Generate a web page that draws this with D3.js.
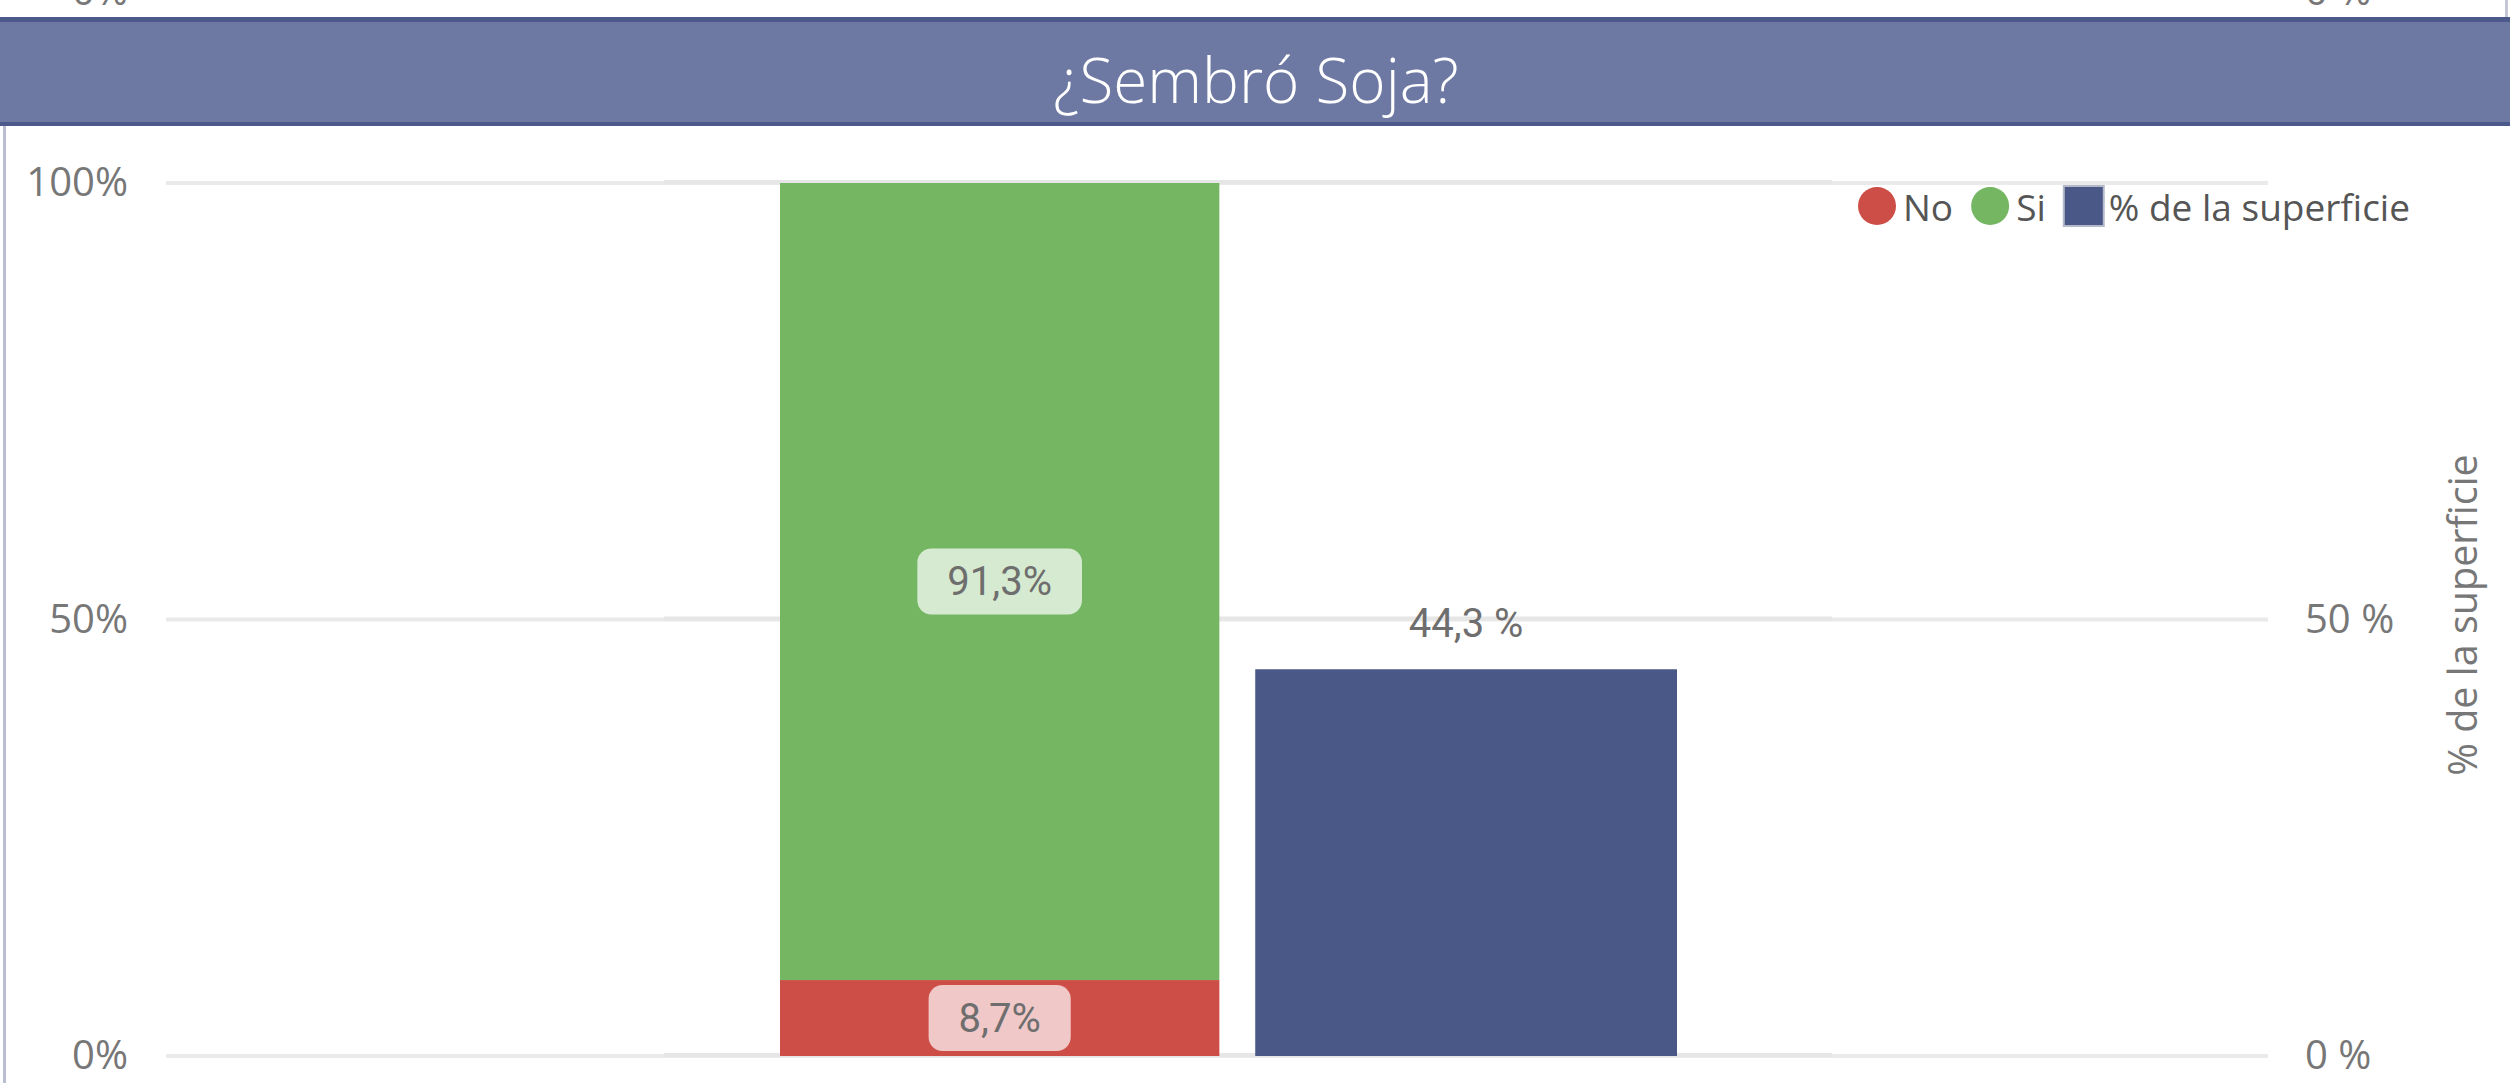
<!DOCTYPE html>
<html>
<head>
<meta charset="utf-8">
<script src="https://cdn.jsdelivr.net/npm/d3@7"></script>
<style>
  html, body { margin: 0; padding: 0; background: #fff; overflow: hidden; }
  svg { display: block; }
</style>
</head>
<body>
<div id="chart"></div>
<script>
const width = 2510;
const height = 1083;

// data
const title = "¿Sembró Soja?";
const answers = ["No", "Si"];
const answerShares = [0.087, 0.913];
const surfaceLabel = "% de la superficie";
const surfaceShare = [0.443];
const leftTicks = [0, 0.5, 1];
const rightTicks = [0, 0.5];
const groups = ["respuesta", "superficie"];

const colors = { No: "#CD4D47", Si: "#74B662", surface: "#4A5888" };
const boxColors = { No: "#F1C8C8", Si: "#D5EAD0" };
const labelFont = "'Open Sans', 'Segoe UI', sans-serif";

const svg = d3.select("#chart")
    .append("svg")
    .attr("width", width)
    .attr("height", height);

// pieces of the chart above, cut off at the top
svg.append("text").attr("x", 128).attr("y", 5).attr("text-anchor", "end")
    .attr("font-family", labelFont).attr("font-size", 40).attr("fill", "#777").text("0%");
svg.append("text").attr("x", 2305).attr("y", 5)
    .attr("font-family", labelFont).attr("font-size", 40).attr("fill", "#777").text("0 %");
svg.append("rect").attr("x", 2505).attr("y", 0).attr("width", 3).attr("height", 18).attr("fill", "#C3C7D6");

// title bar
svg.append("rect").attr("x", 0).attr("y", 17).attr("width", width).attr("height", 109).attr("fill", "#4B5A8B");
svg.append("rect").attr("x", 0).attr("y", 22).attr("width", width).attr("height", 100).attr("fill", "#6D79A2");
svg.append("text")
    .attr("x", 1256).attr("y", 79)
    .attr("text-anchor", "middle")
    .attr("dominant-baseline", "central")
    .attr("font-family", labelFont)
    .attr("font-weight", 300)
    .attr("font-size", 62)
    .attr("fill", "#fff")
    .text(title);

// left frame line
svg.append("rect").attr("x", 3).attr("y", 126).attr("width", 3).attr("height", height - 126).attr("fill", "#B9BED3");

// scales
const y = d3.scaleLinear().domain([0, 1]).range([1056, 183]);
const yRight = d3.scaleLinear().domain([0, 1]).range([1056, 183]);
const x = d3.scaleBand().domain(groups).range([780, 1677]).paddingInner(0.04);

// gridlines (two overlaid visuals)
svg.append("g").selectAll("line")
    .data(leftTicks).join("line")
    .attr("x1", 166).attr("x2", 2268)
    .attr("y1", d => y(d)).attr("y2", d => y(d))
    .attr("stroke", "#EAEAEA").attr("stroke-width", 4);
svg.append("g").selectAll("line")
    .data(leftTicks).join("line")
    .attr("x1", 664).attr("x2", 1832)
    .attr("y1", d => y(d) - 1).attr("y2", d => y(d) - 1)
    .attr("stroke", "#E6E6E6").attr("stroke-width", 4);

// left axis
const leftAxis = svg.append("g")
    .attr("transform", "translate(128,0)")
    .call(d3.axisLeft(y).tickValues(leftTicks).tickFormat(d3.format(".0%")).tickSize(0).tickPadding(0));
leftAxis.select(".domain").remove();
leftAxis.selectAll("text")
    .attr("font-family", labelFont).attr("font-size", 40).attr("fill", "#777");

// right axis
const rightAxis = svg.append("g")
    .attr("transform", "translate(2305,0)")
    .call(d3.axisRight(yRight).tickValues(rightTicks)
        .tickFormat(d => d3.format(".0f")(d * 100) + " %").tickSize(0).tickPadding(0));
rightAxis.select(".domain").remove();
rightAxis.selectAll("text")
    .attr("font-family", labelFont).attr("font-size", 40).attr("fill", "#777");

svg.append("text")
    .attr("transform", "translate(2462,615) rotate(-90)")
    .attr("text-anchor", "middle")
    .attr("dominant-baseline", "central")
    .attr("font-family", labelFont).attr("font-size", 39.5).attr("fill", "#777")
    .text(surfaceLabel);

// stacked column
const stackRow = {};
answers.forEach((a, i) => stackRow[a] = answerShares[i]);
const stacked = d3.stack().keys(answers)([stackRow]);

const segs = svg.append("g").selectAll("g")
    .data(stacked).join("g");

segs.append("rect")
    .attr("x", x("respuesta"))
    .attr("width", x.bandwidth())
    .attr("y", d => y(d[0][1]))
    .attr("height", d => y(d[0][0]) - y(d[0][1]))
    .attr("fill", d => colors[d.key]);

const labelFmt = v => d3.format(".1f")(v * 100).replace(".", ",") + "%";
segs.each(function(d) {
    const g = d3.select(this);
    const cx = x("respuesta") + x.bandwidth() / 2;
    const cy = (y(d[0][0]) + y(d[0][1])) / 2;
    const box = g.append("rect").attr("fill", boxColors[d.key]).attr("rx", 14);
    const t = g.append("text")
        .attr("x", cx).attr("y", cy)
        .attr("text-anchor", "middle")
        .attr("dominant-baseline", "central")
        .attr("font-family", "Roboto, sans-serif")
        .attr("font-size", 40)
        .attr("fill", "#6E6E6E")
        .text(labelFmt(d[0][1] - d[0][0]));
    const w = t.node().getComputedTextLength() + 60;
    box.attr("x", cx - w / 2).attr("y", cy - 33).attr("width", w).attr("height", 66);
});

// surface column
const bw2 = x.bandwidth() * 0.96;
svg.append("g").selectAll("rect")
    .data(surfaceShare).join("rect")
    .attr("x", x("superficie") + x.bandwidth() - bw2)
    .attr("width", bw2)
    .attr("y", d => yRight(d))
    .attr("height", d => yRight(0) - yRight(d))
    .attr("fill", colors.surface);

svg.append("g").selectAll("text")
    .data(surfaceShare).join("text")
    .attr("x", x("superficie") + x.bandwidth() - bw2 / 2)
    .attr("y", d => yRight(d) - 32)
    .attr("text-anchor", "middle")
    .attr("font-family", "Roboto, sans-serif")
    .attr("font-size", 40)
    .attr("fill", "#6E6E6E")
    .text(d => d3.format(".1f")(d * 100).replace(".", ",") + " %");

// legend
const legendItems = [
    { label: "No", color: colors.No, shape: "circle" },
    { label: "Si", color: colors.Si, shape: "circle" },
    { label: surfaceLabel, color: colors.surface, shape: "square" }
];
const legend = svg.append("g").attr("transform", "translate(1858,206)");
let lx = 0;
legendItems.forEach(item => {
    const g = legend.append("g").attr("transform", `translate(${lx},0)`);
    if (item.shape === "circle") {
        g.append("circle").attr("cx", 19).attr("cy", 0).attr("r", 19).attr("fill", item.color);
    } else {
        g.append("rect").attr("x", 0).attr("y", -20).attr("width", 40).attr("height", 40)
            .attr("fill", item.color).attr("stroke", "#B5BACB").attr("stroke-width", 2);
    }
    const t = g.append("text")
        .attr("x", 45).attr("y", 0)
        .attr("dominant-baseline", "central")
        .attr("font-family", labelFont).attr("font-size", 37).attr("fill", "#555")
        .text(item.label);
    lx += 45 + t.node().getComputedTextLength() + 18;
});
</script>
</body>
</html>
